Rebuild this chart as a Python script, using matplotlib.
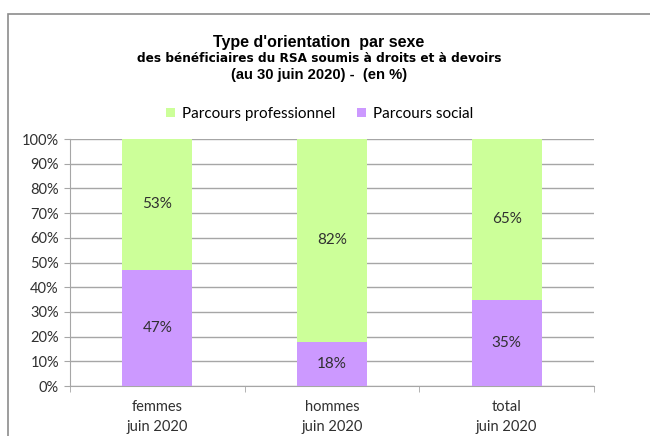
import matplotlib
matplotlib.use("Agg")
import matplotlib.pyplot as plt
from matplotlib.patches import Rectangle, Patch
import numpy as np

categories = ["femmes\njuin 2020", "hommes\njuin 2020", "total\njuin 2020"]
social = [47, 18, 35]
professionnel = [53, 82, 65]
series_names = ["Parcours professionnel", "Parcours social"]
yticks = [0, 10, 20, 30, 40, 50, 60, 70, 80, 90, 100]

W, H = 650, 436
fig = plt.figure(figsize=(W / 100, H / 100), dpi=100)
fig.patch.set_facecolor("white")

# outer chart frame (cropped at right/bottom)
fig.add_artist(Rectangle((8 / W, -0.1), 1.2, 1.1 - 14 / H, transform=fig.transFigure,
                         fill=False, edgecolor="#8c8c8c", linewidth=1.2))

ax = fig.add_axes([70 / W, 1 - 386 / H, (594 - 70) / W, (386 - 139) / H])
x = np.arange(len(categories))
green = "#ccff99"
purple = "#cc99ff"
bw = 0.4
ax.bar(x, social, bw, color=purple, zorder=3)
ax.bar(x, professionnel, bw, bottom=social, color=green, zorder=3)

lab_font = dict(family="Lato", fontsize=11, color="#303030")
for i in range(len(categories)):
    ax.text(x[i], social[i] / 2, f"{social[i]}%", ha="center", va="center", zorder=4, **lab_font)
    ax.text(x[i], social[i] + professionnel[i] / 2, f"{professionnel[i]}%", ha="center", va="center",
            zorder=4, **lab_font)

ax.set_xlim(-0.5, len(categories) - 0.5)
ax.set_ylim(0, 100)
ax.set_yticks(yticks)
ax.set_yticklabels([f"{v}%" for v in yticks], fontfamily="Lato", fontsize=10.5, color="#303030")
ax.yaxis.grid(True, color="#a6a6a6", linewidth=1)
ax.set_axisbelow(True)
ax.set_xticks(x)
ax.set_xticklabels(categories, fontfamily="Lato", fontsize=10.5, color="#303030", linespacing=1.55)
ax.tick_params(axis="x", length=0, pad=10)
ax.set_xticks(np.arange(len(categories) + 1) - 0.5, minor=True)
ax.tick_params(axis="x", which="minor", length=4, color="#a6a6a6")
ax.tick_params(axis="y", length=4, color="#a6a6a6", pad=4)
for s in ["top", "right"]:
    ax.spines[s].set_visible(False)
for s in ["left", "bottom"]:
    ax.spines[s].set_color("#a6a6a6")

# titles
cx = 319 / W
fig.text(cx, 1 - 42 / H, "Type d'orientation  par sexe", ha="center", va="center",
         family="Liberation Sans", fontweight="bold", fontsize=11.5)
fig.text(cx, 1 - 58 / H, "des bénéficiaires du RSA soumis à droits et à devoirs", ha="center", va="center",
         family="Liberation Sans Narrow", fontweight="bold", fontsize=8.7)
fig.text(cx, 1 - 75 / H, "(au 30 juin 2020) -  (en %)", ha="center", va="center",
         family="Liberation Sans", fontweight="bold", fontsize=10.6)

handles = [Patch(facecolor=green), Patch(facecolor=purple)]
fig.legend(handles, series_names, loc="center", bbox_to_anchor=(320 / W, 1 - 114 / H), ncol=2,
           frameon=False, prop=dict(family="Lato", size=11), handlelength=0.55, handleheight=0.55,
           handletextpad=0.5, columnspacing=1.4)

fig.savefig("out.png", dpi=100)
